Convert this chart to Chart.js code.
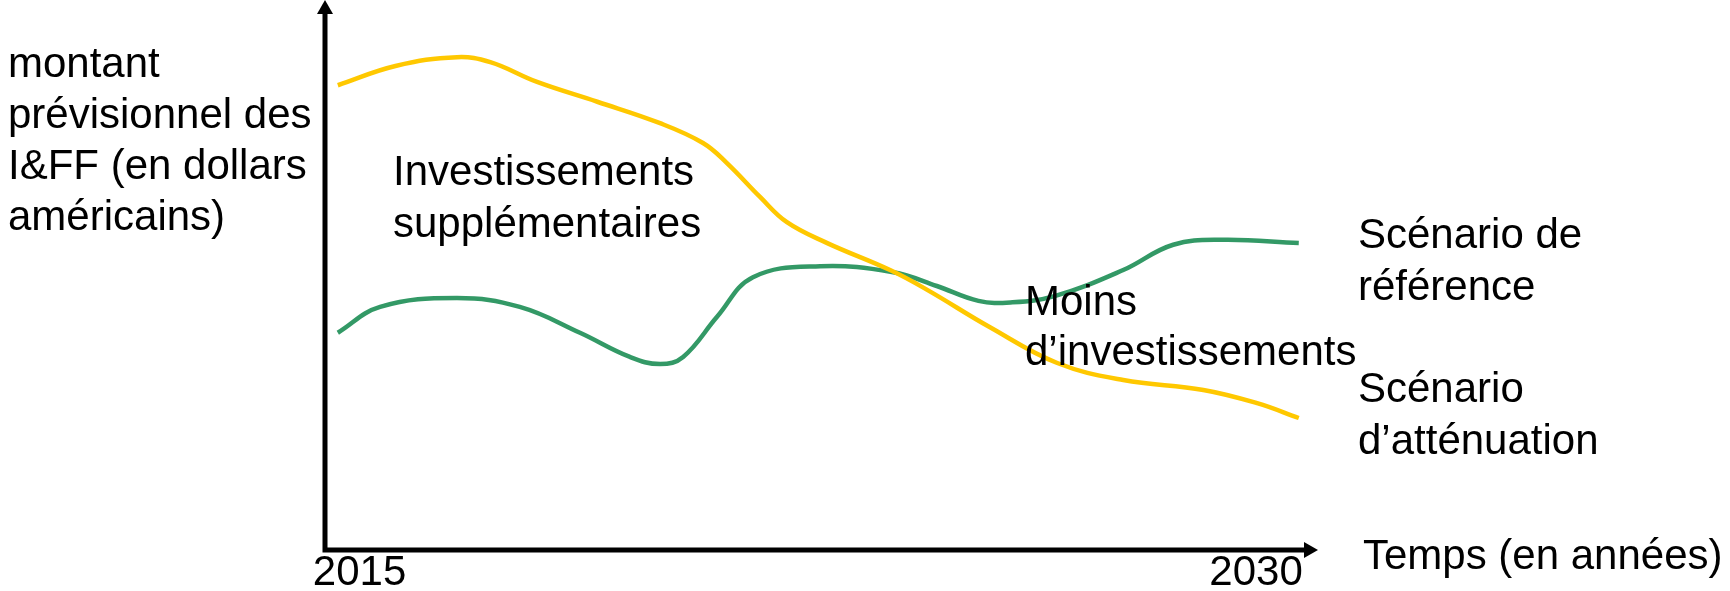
<!DOCTYPE html>
<html>
<head>
<meta charset="utf-8">
<script src="https://cdn.jsdelivr.net/npm/chart.js@4.4.1/dist/chart.umd.min.js"></script>
<style>
  html, body { margin: 0; padding: 0; background: #fff; }
  canvas { display: block; }
</style>
</head>
<body>
<canvas id="chart" width="1730" height="591"></canvas>
<script>
// years (x) and values (arbitrary units)
const attenuationYears = [2015.0, 2015.9, 2016.86, 2017.38, 2018.11, 2019.05, 2020.03, 2020.7, 2021.07, 2021.59, 2022.01, 2022.64, 2023.62, 2024.2, 2025.18, 2026.23, 2027.26, 2028.51, 2029.35, 2030.0];
const attenuationValues = [84.5, 88.0, 89.6, 88.7, 85.1, 81.5, 77.6, 74.0, 70.4, 64.2, 59.6, 55.8, 50.9, 47.3, 40.5, 34.0, 30.9, 29.1, 26.7, 24.0];

const referenceYears = [2015.0, 2015.66, 2016.86, 2017.84, 2018.78, 2019.56, 2020.03, 2020.39, 2020.92, 2021.48, 2022.53, 2023.67, 2024.35, 2025.0, 2025.5, 2026.2, 2027.26, 2028.04, 2028.82, 2030.0];
const referenceValues = [39.5, 44.2, 45.8, 44.2, 39.5, 35.1, 33.8, 35.1, 42.4, 49.6, 51.6, 50.5, 48.0, 45.3, 45.0, 46.2, 50.9, 55.5, 56.4, 55.8];

const tickYears = [2015, 2030];
const tickLabels = ['2015', '2030'];

const yTitle = ['montant', 'prévisionnel des', 'I&FF (en dollars', 'américains)'];
const xTitle = 'Temps (en années)';
const upperArea = ['Investissements', 'supplémentaires'];
const lowerArea = ['Moins', 'd\u2019investissements'];
const referenceLabel = ['Scénario de', 'référence'];
const attenuationLabel = ['Scénario', 'd\u2019atténuation'];

const toPoints = (xs, ys) => xs.map((x, i) => ({ x: x, y: ys[i] }));

const FONT = '42px "Liberation Sans", Arial, sans-serif';

function drawLines(ctx, lines, x, y, step) {
    lines.forEach((t, i) => ctx.fillText(t, x, y + i * step));
}

const axesPlugin = {
    id: 'axesPlugin',
    afterDraw(chart) {
        const ctx = chart.ctx;
        const a = chart.chartArea;
        const xs = chart.scales.x;
        ctx.save();

        // axes with arrows
        ctx.strokeStyle = '#000';
        ctx.fillStyle = '#000';
        ctx.lineWidth = 5;
        ctx.beginPath();
        ctx.moveTo(a.left, a.top + 10);
        ctx.lineTo(a.left, a.bottom);
        ctx.lineTo(a.right - 10, a.bottom);
        ctx.stroke();

        ctx.beginPath();
        ctx.moveTo(a.left, a.top);
        ctx.lineTo(a.left - 8, a.top + 14);
        ctx.lineTo(a.left + 8, a.top + 14);
        ctx.closePath();
        ctx.fill();

        ctx.beginPath();
        ctx.moveTo(a.right, a.bottom);
        ctx.lineTo(a.right - 14, a.bottom - 8);
        ctx.lineTo(a.right - 14, a.bottom + 8);
        ctx.closePath();
        ctx.fill();

        ctx.font = FONT;
        ctx.textBaseline = 'alphabetic';

        // tick labels
        ctx.textAlign = 'left';
        ctx.fillText(tickLabels[0], xs.getPixelForValue(tickYears[0]) - 25, 585);
        ctx.textAlign = 'right';
        ctx.fillText(tickLabels[1], xs.getPixelForValue(tickYears[1]) + 4, 585);

        ctx.textAlign = 'left';
        drawLines(ctx, yTitle, 8, 77, 51);
        ctx.fillText(xTitle, 1363, 569);
        drawLines(ctx, upperArea, 393, 185, 52);
        drawLines(ctx, lowerArea, 1025, 315, 50);
        drawLines(ctx, referenceLabel, 1358, 248, 52);
        drawLines(ctx, attenuationLabel, 1358, 402, 52);

        ctx.restore();
    }
};

new Chart(document.getElementById('chart'), {
    type: 'line',
    data: {
        datasets: [
            {
                label: 'Scénario d\u2019atténuation',
                data: toPoints(attenuationYears, attenuationValues),
                borderColor: '#FFC800',
                borderWidth: 4.5,
                pointRadius: 0,
                tension: 0.4,
                fill: false
            },
            {
                label: 'Scénario de référence',
                data: toPoints(referenceYears, referenceValues),
                borderColor: '#339966',
                borderWidth: 4.5,
                pointRadius: 0,
                tension: 0.4,
                fill: false
            }
        ]
    },
    options: {
        responsive: false,
        devicePixelRatio: 1,
        animation: false,
        layout: { padding: { left: 325, right: 412, top: 0, bottom: 41 } },
        scales: {
            x: { type: 'linear', min: 2014.8, max: 2030.3, display: false },
            y: { type: 'linear', min: 0, max: 100, display: false }
        },
        plugins: {
            legend: { display: false },
            tooltip: { enabled: false }
        }
    },
    plugins: [axesPlugin]
});
</script>
</body>
</html>
